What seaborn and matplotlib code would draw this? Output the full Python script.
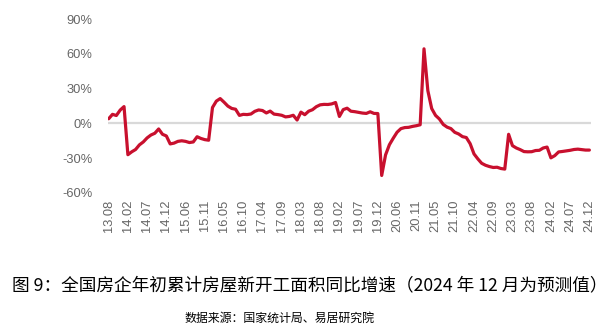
import matplotlib
matplotlib.use("Agg")
import matplotlib.pyplot as plt
import seaborn as sns
import pandas as pd

# Year-to-date YoY growth of new housing starts (%), months Feb-Dec (Jan merged into Feb)
months = ["02", "03", "04", "05", "06", "07", "08", "09", "10", "11", "12"]
v2013 = [4.0, 7.8, 6.8, 11.5, 14.5]  # 13.08 - 13.12
v2014 = [-27.0, -24.5, -22.5, -18.5, -16.0, -12.5, -10.0, -8.5, -4.8, -9.4, -10.8]
v2015 = [-17.7, -17.0, -15.5, -15.0, -15.5, -16.5, -16.0, -11.5, -13.0, -14.0, -14.5]
v2016 = [13.7, 19.2, 21.4, 18.3, 14.9, 12.9, 12.2, 6.9, 7.8, 7.6, 8.1]
v2017 = [10.4, 11.6, 11.1, 9.0, 10.6, 8.0, 7.6, 7.0, 5.6, 6.0, 7.0]
v2018 = [2.9, 9.7, 7.5, 10.5, 11.8, 14.4, 16.0, 16.4, 16.3, 16.8, 18.0]
v2019 = [6.0, 11.9, 13.1, 10.5, 10.1, 9.5, 8.9, 8.6, 10.0, 8.6, 8.5]
v2020 = [-44.9, -27.2, -18.4, -12.8, -7.6, -4.5, -3.6, -3.4, -2.6, -2.0, -1.2]
v2021 = [64.3, 28.2, 12.8, 6.9, 3.8, -0.9, -3.2, -4.5, -7.7, -9.1, -11.4]
v2022 = [-12.2, -17.5, -26.3, -30.6, -34.4, -36.1, -37.2, -38.0, -37.8, -38.9, -39.4]
v2023 = [-9.4, -19.2, -21.2, -22.6, -24.3, -24.5, -24.4, -23.4, -23.2, -21.2, -20.4]
v2024 = [-29.7, -27.8, -24.6, -24.2, -23.7, -23.2, -22.5, -22.2, -22.6, -23.0, -23.0]

tick_labels = ["13.08", "14.02", "14.07", "14.12", "15.06", "15.11", "16.05", "16.10",
               "17.04", "17.09", "18.03", "18.08", "19.02", "19.07", "19.12", "20.06",
               "20.11", "21.05", "21.10", "22.04", "22.09", "23.03", "23.08", "24.02",
               "24.07", "24.12"]
y_ticks = [-60, -30, 0, 30, 60, 90]

labels = ["13." + m for m in ["08", "09", "10", "11", "12"]]
values = list(v2013)
for yy, arr in zip(range(14, 25), [v2014, v2015, v2016, v2017, v2018, v2019,
                                   v2020, v2021, v2022, v2023, v2024]):
    labels += [f"{yy}.{m}" for m in months]
    values += arr

df = pd.DataFrame({"pos": range(len(values)), "label": labels, "value": values})

sns.set_theme(style="white")
plt.rcParams["font.family"] = ["Liberation Sans", "DejaVu Sans"]

fig = plt.figure(figsize=(6.15, 3.26), dpi=100)
ax = fig.add_axes([0.1748, 0.408, 0.9602 - 0.1748, 0.9417 - 0.408])

ax.axhline(0, color="#D9D9D9", lw=1.6, zorder=1)
sns.lineplot(data=df, x="pos", y="value", ax=ax, color="#C8102E", lw=2.3, zorder=3)

ax.set_xlim(-0.3, len(values) - 1 + 0.3)
ax.set_ylim(-60, 90)
ax.set_yticks(y_ticks)
ax.set_yticklabels([f"{t}%" for t in y_ticks])
tick_pos = [labels.index(t) for t in tick_labels]
ax.set_xticks(tick_pos)
ax.set_xticklabels(tick_labels, rotation=90)
ax.set_xlabel("")
ax.set_ylabel("")
for s in ax.spines.values():
    s.set_visible(False)
ax.tick_params(axis="y", length=0, pad=11, labelsize=9.3, labelcolor="#666666")
ax.tick_params(axis="x", length=0, pad=5, labelsize=9.3, labelcolor="#666666")

cjk = ["Noto Sans CJK SC", "DejaVu Sans"]
fig.text(0.503, 0.126, "图 9：全国房企年初累计房屋新开工面积同比增速（2024 年 12 月为预测值）",
         ha="center", va="center", fontsize=12.7, color="#000000", family=cjk,
         fontweight="medium")
fig.text(0.455, 0.0245, "数据来源：国家统计局、易居研究院",
         ha="center", va="center", fontsize=8.6, color="#000000", family=cjk,
         fontweight="medium")

fig.savefig("out.png", dpi=100)
